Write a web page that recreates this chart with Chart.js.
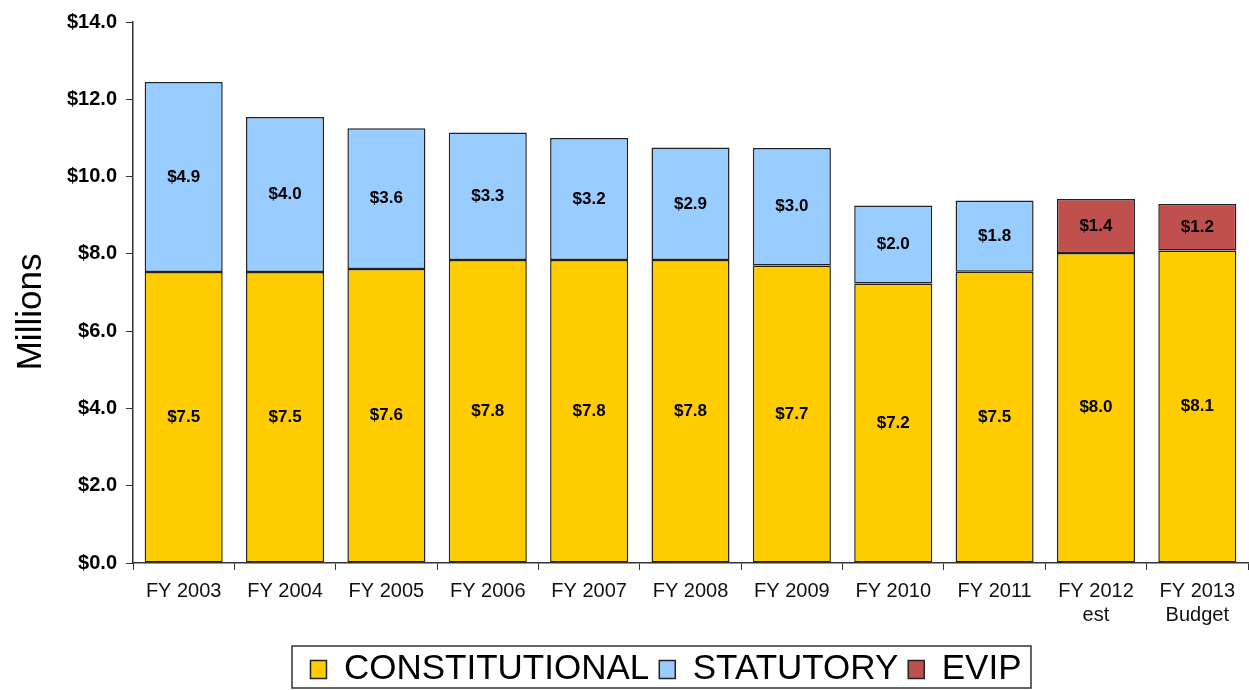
<!DOCTYPE html>
<html>
<head>
<meta charset="utf-8">
<script src="https://cdn.jsdelivr.net/npm/chart.js@4/dist/chart.umd.min.js"></script>
<style>
  html, body { margin: 0; padding: 0; background: #fff; }
  #wrap { width: 1249px; height: 690px; }
</style>
</head>
<body>
<div id="wrap"><canvas id="chart" width="1249" height="690"></canvas></div>
<script>
// fiscal years and the three funding pieces (millions)
const years = ['FY 2003', 'FY 2004', 'FY 2005', 'FY 2006', 'FY 2007', 'FY 2008', 'FY 2009', 'FY 2010', 'FY 2011', ['FY 2012', 'est'], ['FY 2013', 'Budget']];
const constitutional = [7.53, 7.53, 7.61, 7.84, 7.84, 7.84, 7.70, 7.23, 7.54, 8.02, 8.09];
const statutory = [4.92, 4.01, 3.64, 3.30, 3.16, 2.91, 3.04, 2.02, 1.84, null, null];
const evip = [null, null, null, null, null, null, null, null, null, 1.40, 1.20];

const FONT = '"Liberation Sans", Arial, sans-serif';

// write the value in the middle of each segment
const segLabels = {
    id: 'segLabels',
    afterDatasetsDraw(chart){
        const ctx = chart.ctx;
        ctx.save();
        ctx.font = 'bold 17px ' + FONT;
        ctx.fillStyle = '#000';
        ctx.textAlign = 'center';
        ctx.textBaseline = 'middle';
        chart.data.datasets.forEach((ds, i) => {
            const meta = chart.getDatasetMeta(i);
            meta.data.forEach((bar, j) => {
                const v = ds.data[j];
                if (v == null) return;
                ctx.fillText('$' + v.toFixed(1), bar.x, (bar.y + bar.base) / 2);
            });
        });
        ctx.restore();
    }
};

// legend sits a bit right of centre and lower in the original, and has a frame
const legendBox = {
    id: 'legendBox',
    afterLayout(chart){
        const lg = chart.legend;
        if (!lg) return;
        lg.left += 42; lg.right += 42;
        lg.top += 7; lg.bottom += 7;
    },
    afterDraw(chart){
        const lg = chart.legend;
        if (!lg || !lg.lineWidths) return;
        const pad = lg.options.labels.padding;
        const ctx = chart.ctx;
        ctx.save();
        ctx.strokeStyle = '#333';
        ctx.lineWidth = 1.5;
        const mid = (lg.left + lg.right) / 2;
        const cw = lg.lineWidths[0] - pad;
        const x0 = Math.round(mid - cw / 2 - 18);
        const x1 = Math.round(mid + cw / 2 + 9);
        const cy = lg.top + pad + 17.5;
        ctx.strokeRect(x0, Math.round(cy - 23.5), x1 - x0, 42);
        ctx.restore();
    }
};

const barOpts = { borderColor: '#222', borderWidth: 1.5, borderSkipped: false, barPercentage: 0.77, categoryPercentage: 1.0 };

new Chart(document.getElementById('chart'), {
    type: 'bar',
    data: {
        labels: years,
        datasets: [
            Object.assign({ label: 'CONSTITUTIONAL', data: constitutional, backgroundColor: '#FFCC00' }, barOpts),
            Object.assign({ label: 'STATUTORY', data: statutory, backgroundColor: '#99CCFF' }, barOpts),
            Object.assign({ label: 'EVIP', data: evip, backgroundColor: '#C0504D' }, barOpts)
        ]
    },
    options: {
        responsive: false,
        animation: false,
        layout: { padding: { top: 22, right: 1, left: 0, bottom: 0 } },
        plugins: {
            legend: {
                position: 'bottom',
                labels: {
                    color: '#000',
                    font: { family: FONT, size: 35 },
                    boxWidth: 16,
                    boxHeight: 18,
                    padding: 10
                }
            },
            tooltip: { enabled: false }
        },
        scales: {
            x: {
                stacked: true,
                grid: { display: true, drawOnChartArea: false, drawTicks: true, tickLength: 7, color: '#333' },
                border: { display: true, color: '#333', width: 1.5 },
                ticks: { color: '#111', font: { family: FONT, size: 20 }, padding: 9, maxRotation: 0, autoSkip: false },
                afterFit(s){ s.height = 72; }
            },
            y: {
                stacked: true,
                min: 0,
                max: 14,
                grid: { display: true, drawOnChartArea: false, drawTicks: true, tickLength: 7, color: '#333' },
                border: { display: true, color: '#333', width: 1.5 },
                ticks: {
                    stepSize: 2,
                    color: '#000',
                    padding: 9,
                    font: { family: FONT, size: 20, weight: 'bold' },
                    callback: v => '$' + Number(v).toFixed(1)
                },
                title: { display: true, text: 'Millions\u00a0\u00a0\u00a0\u00a0', color: '#000', font: { family: FONT, size: 35 }, padding: { top: 10, bottom: 0 } },
                afterFit(s){ s.width = 133; }
            }
        }
    },
    plugins: [segLabels, legendBox]
});
</script>
</body>
</html>
